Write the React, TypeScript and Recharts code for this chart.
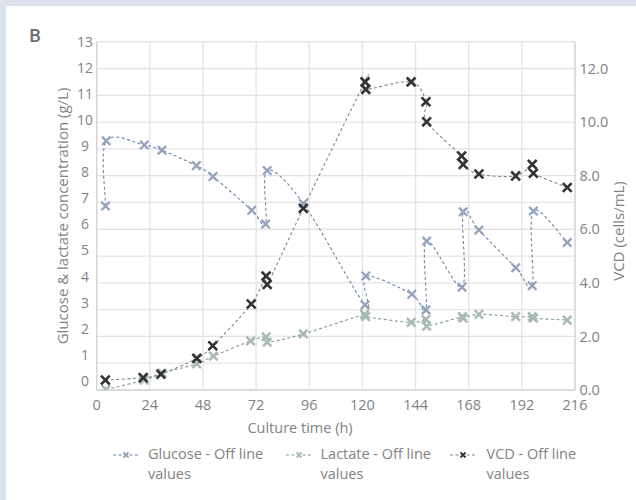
import React from 'react';
import { LineChart, Line, XAxis, YAxis, CartesianGrid, Legend } from 'recharts';

// ---- data ----
const glucoseTime = [4, 4.3, 21.5, 29.5, 45, 52.5, 70, 76.3, 77, 93.3, 121.2, 121.5, 142.3, 148.7, 149, 165, 165.5, 172.6, 189.2, 196.7, 197.2, 212.5];
const glucoseValues = [6.7, 9.2, 9.04, 8.84, 8.25, 7.83, 6.54, 6.01, 8.06, 6.8, 2.91, 4.02, 3.32, 2.72, 5.36, 3.59, 6.48, 5.78, 4.34, 3.65, 6.51, 5.3];

const lactateTime = [4.2, 21.4, 29.5, 45.2, 52.7, 69.5, 76.5, 77, 93.3, 120.9, 121.5, 142, 148.7, 149, 165.1, 165.5, 172.6, 189.2, 196.7, 197.2, 212.5];
const lactateValues = [-0.33, 0.03, 0.3, 0.65, 0.95, 1.53, 1.69, 1.48, 1.8, 2.55, 2.46, 2.24, 2.36, 2.1, 2.46, 2.4, 2.55, 2.46, 2.46, 2.4, 2.33];

const vcdTime = [3.9, 21, 29, 45.2, 52.4, 69.8, 76.5, 77, 93.3, 121.2, 121.5, 142, 148.7, 149, 164.8, 165.5, 172.6, 189.2, 196.7, 197.2, 212.5];
const vcdValues = [0.37, 0.46, 0.59, 1.18, 1.65, 3.21, 4.25, 3.94, 6.78, 11.5, 11.22, 11.5, 10.76, 10.01, 8.73, 8.42, 8.06, 7.99, 8.42, 8.09, 7.56];

const xTicks = [0, 24, 48, 72, 96, 120, 144, 168, 192, 216];
const leftTicks = [0, 1, 2, 3, 4, 5, 6, 7, 8, 9, 10, 11, 12, 13];
const rightTicks = [0, 2, 4, 6, 8, 10, 12];
const rightGrid = [0, 1, 2, 3, 4, 5, 6, 7, 8, 9, 10, 11, 12, 13];

const seriesNames = ['Glucose - Off line values', 'Lactate - Off line values', 'VCD - Off line values'];

const toRows = (ts: number[], vs: number[]) => ts.map((t, i) => ({ t, v: vs[i] }));
const glucoseData = toRows(glucoseTime, glucoseValues);
const lactateData = toRows(lactateTime, lactateValues);
const vcdData = toRows(vcdTime, vcdValues);

// ---- styles ----
const FONT = '"Open Sans", "Noto Sans", sans-serif';
const TEXT = '#828282';
const GLU_MARK = '#93a3bd';
const GLU_LINE = '#6a84aa';
const LAC_MARK = '#a9bab3';
const LAC_LINE = '#7c9c92';
const VCD_MARK = '#333333';
const VCD_LINE = '#858585';

// Excel-like smoothed line (Catmull-Rom through points)
const smooth: any = (context: any) => {
  let xs: number[] = [];
  let ys: number[] = [];
  return {
    areaStart() {},
    areaEnd() {},
    lineStart() {
      xs = [];
      ys = [];
    },
    point(x: number, y: number) {
      xs.push(+x);
      ys.push(+y);
    },
    lineEnd() {
      const n = xs.length;
      if (!n) return;
      context.moveTo(xs[0], ys[0]);
      for (let i = 0; i < n - 1; i++) {
        const a = Math.max(i - 1, 0);
        const d = Math.min(i + 2, n - 1);
        const x1 = xs[i], y1 = ys[i], x2 = xs[i + 1], y2 = ys[i + 1];
        context.bezierCurveTo(
          x1 + (x2 - xs[a]) / 6,
          y1 + (y2 - ys[a]) / 6,
          x2 - (xs[d] - x1) / 6,
          y2 - (ys[d] - y1) / 6,
          x2,
          y2
        );
      }
    },
  };
};

const makeDot = (color: string, r: number, w: number) => (p: any) => {
  const { cx, cy, index } = p;
  if (cx == null || cy == null) return <g key={index} />;
  return (
    <path
      key={index}
      d={`M${cx - r},${cy - r}L${cx + r},${cy + r}M${cx + r},${cy - r}L${cx - r},${cy + r}`}
      stroke={color}
      strokeWidth={w}
      fill="none"
    />
  );
};

const LeftTick = (p: any) => (
  <text x={85} y={p.y} dy="0.36em" textAnchor="middle" fill={TEXT} fontSize={14} fontFamily={FONT}>
    {p.payload.value}
  </text>
);

const RightTick = (p: any) => (
  <text x={579.5} y={p.y} dy="0.36em" textAnchor="start" fill={TEXT} fontSize={14.5} fontFamily={FONT}>
    {Number(p.payload.value).toFixed(1)}
  </text>
);

const BottomTick = (p: any) => (
  <text x={p.x} y={405} dy="0.36em" textAnchor="middle" fill={TEXT} fontSize={14.5} fontFamily={FONT}>
    {p.payload.value}
  </text>
);

const legendItems = [
  { name: seriesNames[0], mark: GLU_MARK, line: GLU_LINE, sx: 113, tx: 148 },
  { name: seriesNames[1], mark: LAC_MARK, line: LAC_LINE, sx: 286, tx: 320.5 },
  { name: seriesNames[2], mark: VCD_MARK, line: VCD_LINE, sx: 450, tx: 486.5 },
];

const LegendBox = () => (
  <div style={{ position: 'relative', width: 636, height: 50, fontFamily: FONT, fontSize: 14.5, color: TEXT }}>
    {legendItems.map((it, i) => {
      const words = it.name.split(' ');
      const first = words.slice(0, -1).join(' ');
      const last = words[words.length - 1];
      return (
        <React.Fragment key={i}>
          <svg style={{ position: 'absolute', left: it.sx, top: 9 }} width={26} height={12}>
            <line x1={0} y1={6} x2={26} y2={6} stroke={it.line} strokeWidth={1.2} strokeDasharray="3 2.5" />
            <path d="M10.5,3.5L15.5,8.5M15.5,3.5L10.5,8.5" stroke={it.mark} strokeWidth={1.8} fill="none" />
          </svg>
          <div style={{ position: 'absolute', left: it.tx, top: 4, lineHeight: '20px', whiteSpace: 'nowrap' }}>
            <div>{first}</div>
            <div>{last}</div>
          </div>
        </React.Fragment>
      );
    })}
  </div>
);

export default function App() {
  return (
    <div style={{ position: 'absolute', left: 0, top: 0, width: 636, height: 500, background: '#dbe2ea' }}>
      <div style={{ position: 'absolute', left: 6, top: 6, width: 630, height: 494, background: '#ffffff' }} />
      <div style={{ position: 'absolute', left: 0, top: 0 }}>
        <LineChart width={636} height={500} margin={{ top: 41.7, right: 0, bottom: 0, left: 0 }}>
          <CartesianGrid
            yAxisId="right"
            horizontalValues={rightGrid}
            verticalValues={xTicks}
            stroke="#e3e3e3"
            strokeWidth={1.3}
          />
          <XAxis
            dataKey="t"
            type="number"
            domain={[0, 216]}
            ticks={xTicks}
            allowDataOverflow
            height={60}
            tickLine={false}
            axisLine={{ stroke: '#d6d6d6', strokeWidth: 1.3 }}
            tick={<BottomTick />}
          />
          <YAxis
            yAxisId="left"
            orientation="left"
            type="number"
            domain={[-0.35, 13]}
            ticks={leftTicks}
            allowDataOverflow
            width={96.7}
            tickLine={false}
            axisLine={{ stroke: '#d6d6d6', strokeWidth: 1.3 }}
            tick={<LeftTick />}
          />
          <YAxis
            yAxisId="right"
            orientation="right"
            type="number"
            domain={[0, 13]}
            ticks={rightTicks}
            allowDataOverflow
            width={61}
            tickLine={false}
            axisLine={{ stroke: '#d6d6d6', strokeWidth: 1.3 }}
            tick={<RightTick />}
          />
          <Legend
            wrapperStyle={{ position: 'absolute', top: 440, left: 0, bottom: 'auto', width: 636, height: 50 }}
            content={() => <LegendBox />}
          />
          <Line
            data={glucoseData}
            dataKey="v"
            name={seriesNames[0]}
            yAxisId="left"
            type={smooth}
            stroke={GLU_LINE}
            strokeWidth={1.1}
            strokeDasharray="3 2.5"
            dot={makeDot(GLU_MARK, 4.2, 2.3)}
            activeDot={false}
            isAnimationActive={false}
          />
          <Line
            data={lactateData}
            dataKey="v"
            name={seriesNames[1]}
            yAxisId="left"
            type={smooth}
            stroke={LAC_LINE}
            strokeWidth={1.1}
            strokeDasharray="3 2.5"
            dot={makeDot(LAC_MARK, 4.2, 2.5)}
            activeDot={false}
            isAnimationActive={false}
          />
          <Line
            data={vcdData}
            dataKey="v"
            name={seriesNames[2]}
            yAxisId="right"
            type={smooth}
            stroke={VCD_LINE}
            strokeWidth={1.1}
            strokeDasharray="3 2.5"
            dot={makeDot(VCD_MARK, 4.4, 2.6)}
            activeDot={false}
            isAnimationActive={false}
          />
          <text x={29} y={42} fontSize={18} fontWeight={600} fill="#6a6a6a" fontFamily={FONT}>
            B
          </text>
          <text
            transform="translate(62,216) rotate(-90)"
            textAnchor="middle"
            dominantBaseline="central"
            fontSize={15}
            fill={TEXT}
            fontFamily={FONT}
          >
            Glucose &amp; lactate concentration (g/L)
          </text>
          <text
            transform="translate(618,231) rotate(-90)"
            textAnchor="middle"
            dominantBaseline="central"
            fontSize={15}
            fill={TEXT}
            fontFamily={FONT}
          >
            VCD (cells/mL)
          </text>
          <text x={300} y={427} textAnchor="middle" dominantBaseline="central" fontSize={14.5} fill={TEXT} fontFamily={FONT}>
            Culture time (h)
          </text>
        </LineChart>
      </div>
    </div>
  );
}
